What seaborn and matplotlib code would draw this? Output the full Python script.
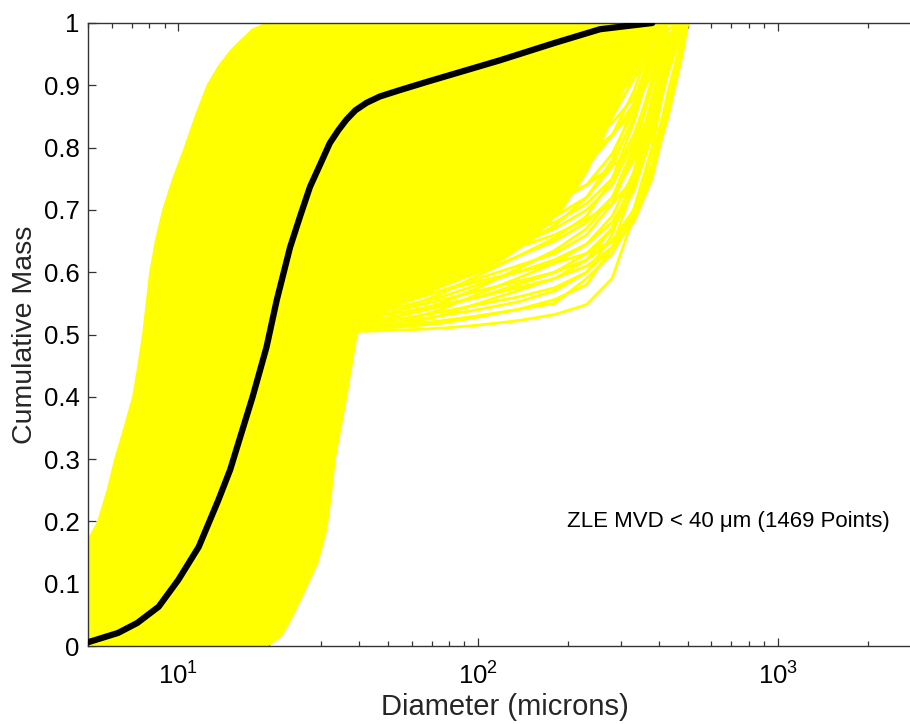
import numpy as np
import pandas as pd
import matplotlib
matplotlib.use("Agg")
import matplotlib.pyplot as plt
import matplotlib.ticker as mticker
import seaborn as sns

# Mean cumulative mass curve (diameter in microns)
mean_diam = [5, 6.3, 7.3, 8.6, 10, 11.7, 13.6, 14.9, 16.2, 17.7, 19.7, 21.3, 23.6,
             25.5, 27.5, 30, 32, 34.2, 36.4, 39, 42.5, 47, 54.6, 68, 86.7, 118,
             180, 255, 381]
mean_mass = [0.006, 0.021, 0.037, 0.063, 0.106, 0.159, 0.234, 0.283, 0.34, 0.40,
             0.48, 0.555, 0.64, 0.69, 0.737, 0.777, 0.807, 0.828, 0.845, 0.860,
             0.872, 0.882, 0.892, 0.906, 0.921, 0.94, 0.968, 0.99, 1.0]

# Outline of the dense bundle of individual distributions
band_upper_diam = [5, 5, 5.4, 5.8, 6.15, 6.6, 7.06, 7.35, 7.62, 8.05, 8.4, 8.89, 9.6,
                   10.5, 11.4, 12.5, 13.6, 14.9, 16.0, 17.7, 19.8]
band_upper_mass = [0.0, 0.17, 0.2, 0.25, 0.3, 0.35, 0.4, 0.45, 0.5, 0.6, 0.65, 0.7,
                   0.75, 0.8, 0.85, 0.9, 0.93, 0.955, 0.97, 0.99, 1.0]
band_right_diam = [430, 360, 310, 270, 230, 190, 150, 120, 95, 70, 55, 45, 40.5]
band_right_mass = [1.0, 0.96, 0.90, 0.83, 0.76, 0.70, 0.65, 0.62, 0.595, 0.57, 0.55,
                   0.53, 0.507]
band_lower_diam = [39.4, 36.4, 33.3, 32.3, 31.2, 29.1, 25.9, 23.4, 22.0, 19.8]
band_lower_mass = [0.5, 0.4, 0.3, 0.24, 0.186, 0.133, 0.08, 0.037, 0.015, 0.0]

# Individual distributions with a coarse tail beyond 40 microns
tail_diam = [40, 55, 75, 100, 135, 180, 230, 280, 330, 380, 430, 480, 500]
tail_mass = [
    [0.505, 0.507, 0.510, 0.515, 0.522, 0.532, 0.548, 0.59, 0.69, 0.79, 0.88, 0.96, 1.0],
    [0.510, 0.515, 0.522, 0.530, 0.540, 0.550, 0.590, 0.63, 0.69, 0.76, 0.85, 0.95, 1.0],
    [0.508, 0.512, 0.518, 0.528, 0.540, 0.556, 0.580, 0.64, 0.74, 0.85, 0.94, 0.99, 1.0],
    [0.512, 0.520, 0.530, 0.540, 0.552, 0.570, 0.600, 0.66, 0.76, 0.88, 0.97, 1.0, 1.0],
    [0.515, 0.525, 0.536, 0.548, 0.560, 0.575, 0.600, 0.64, 0.70, 0.77, 0.87, 0.97, 1.0],
    [0.520, 0.530, 0.545, 0.560, 0.580, 0.600, 0.630, 0.67, 0.73, 0.82, 0.92, 0.99, 1.0],
    [0.525, 0.540, 0.555, 0.570, 0.585, 0.600, 0.620, 0.65, 0.70, 0.80, 0.93, 1.0, 1.0],
    [0.530, 0.545, 0.560, 0.580, 0.600, 0.620, 0.645, 0.68, 0.74, 0.84, 0.95, 1.0, 1.0],
    [0.535, 0.550, 0.570, 0.590, 0.610, 0.630, 0.660, 0.71, 0.79, 0.90, 0.98, 1.0, 1.0],
    [0.540, 0.560, 0.580, 0.600, 0.625, 0.650, 0.680, 0.72, 0.78, 0.87, 0.96, 1.0, 1.0],
    [0.550, 0.570, 0.595, 0.620, 0.645, 0.670, 0.700, 0.74, 0.81, 0.91, 0.99, 1.0, 1.0],
    [0.560, 0.585, 0.610, 0.635, 0.660, 0.690, 0.720, 0.77, 0.85, 0.94, 1.0, 1.0, 1.0],
    [0.570, 0.600, 0.630, 0.655, 0.680, 0.710, 0.740, 0.79, 0.86, 0.95, 1.0, 1.0, 1.0],
    [0.580, 0.610, 0.640, 0.670, 0.700, 0.730, 0.770, 0.82, 0.89, 0.97, 1.0, 1.0, 1.0],
    [0.590, 0.625, 0.660, 0.690, 0.720, 0.750, 0.780, 0.82, 0.87, 0.93, 0.99, 1.0, 1.0],
    [0.600, 0.640, 0.675, 0.705, 0.735, 0.765, 0.800, 0.85, 0.91, 0.97, 1.0, 1.0, 1.0],
    [0.620, 0.660, 0.690, 0.720, 0.750, 0.780, 0.810, 0.84, 0.88, 0.94, 0.99, 1.0, 1.0],
    [0.630, 0.670, 0.710, 0.740, 0.770, 0.800, 0.830, 0.87, 0.92, 0.98, 1.0, 1.0, 1.0],
    [0.650, 0.690, 0.730, 0.760, 0.790, 0.820, 0.850, 0.88, 0.91, 0.95, 0.99, 1.0, 1.0],
    [0.670, 0.710, 0.750, 0.780, 0.810, 0.840, 0.870, 0.90, 0.94, 0.98, 1.0, 1.0, 1.0],
    [0.690, 0.730, 0.770, 0.800, 0.830, 0.860, 0.890, 0.92, 0.95, 0.98, 1.0, 1.0, 1.0],
    [0.720, 0.760, 0.800, 0.830, 0.860, 0.890, 0.910, 0.93, 0.96, 0.99, 1.0, 1.0, 1.0],
    [0.750, 0.790, 0.830, 0.860, 0.880, 0.900, 0.920, 0.94, 0.97, 0.99, 1.0, 1.0, 1.0],
    [0.540, 0.555, 0.570, 0.585, 0.600, 0.615, 0.630, 0.65, 0.69, 0.77, 0.89, 0.98, 1.0],
    [0.560, 0.580, 0.600, 0.620, 0.640, 0.660, 0.685, 0.71, 0.75, 0.83, 0.93, 0.99, 1.0],
    [0.600, 0.630, 0.660, 0.680, 0.700, 0.720, 0.740, 0.77, 0.80, 0.86, 0.94, 0.99, 1.0],
    [0.640, 0.680, 0.710, 0.730, 0.750, 0.770, 0.790, 0.82, 0.86, 0.92, 0.98, 1.0, 1.0],
    [0.700, 0.740, 0.780, 0.810, 0.840, 0.860, 0.880, 0.90, 0.93, 0.97, 1.0, 1.0, 1.0],
    [0.780, 0.820, 0.850, 0.880, 0.900, 0.920, 0.940, 0.96, 0.98, 1.0, 1.0, 1.0, 1.0],
    [0.580, 0.600, 0.620, 0.640, 0.660, 0.680, 0.710, 0.75, 0.82, 0.90, 0.97, 1.0, 1.0],
    [0.507, 0.515, 0.530, 0.550, 0.570, 0.590, 0.620, 0.67, 0.75, 0.86, 0.95, 1.0, 1.0],
    [0.510, 0.520, 0.540, 0.565, 0.590, 0.615, 0.645, 0.69, 0.76, 0.85, 0.94, 0.99, 1.0],
    [0.515, 0.530, 0.550, 0.575, 0.605, 0.635, 0.670, 0.72, 0.80, 0.90, 0.98, 1.0, 1.0],
    [0.520, 0.540, 0.565, 0.595, 0.625, 0.655, 0.690, 0.75, 0.84, 0.94, 1.0, 1.0, 1.0],
    [0.530, 0.550, 0.580, 0.610, 0.640, 0.675, 0.720, 0.78, 0.87, 0.96, 1.0, 1.0, 1.0],
    [0.525, 0.535, 0.548, 0.560, 0.575, 0.590, 0.610, 0.64, 0.68, 0.75, 0.86, 0.96, 1.0],
]

y_ticks = [0, 0.1, 0.2, 0.3, 0.4, 0.5, 0.6, 0.7, 0.8, 0.9, 1.0]
annotation = "ZLE MVD < 40 \u03bcm (1469 Points)"

sns.set_theme(style="ticks")
plt.rcParams["font.family"] = ["Liberation Sans", "DejaVu Sans"]
plt.rcParams["axes.unicode_minus"] = False

YELLOW = "#FFFF00"

fig = plt.figure(figsize=(9.10, 7.24), dpi=100)
ax = fig.add_axes([88 / 910, 78 / 724, 833 / 910, 623 / 724])
ax.set_xscale("log")

# dense part of the bundle
poly_x = band_upper_diam + band_right_diam + band_lower_diam
poly_y = band_upper_mass + band_right_mass + band_lower_mass
ax.fill(poly_x, poly_y, color=YELLOW, lw=1.2, ec=YELLOW, zorder=1)

# individual tails
tails = pd.DataFrame(
    [(i, d, m) for i, row in enumerate(tail_mass) for d, m in zip(tail_diam, row)],
    columns=["sample", "diameter", "mass"],
)
sns.lineplot(data=tails, x="diameter", y="mass", units="sample", estimator=None,
             sort=False, color=YELLOW, lw=2.0, ax=ax, zorder=2)

# mean curve
mean_df = pd.DataFrame({"diameter": mean_diam, "mass": mean_mass})
sns.lineplot(data=mean_df, x="diameter", y="mass", color="black", lw=4.5,
             sort=False, estimator=None, ax=ax, zorder=3)

ax.set_xlim(5, 3000)
ax.set_ylim(0, 1)
ax.set_yticks(y_ticks)
ax.yaxis.set_major_formatter(mticker.FormatStrFormatter("%g"))
ax.xaxis.set_major_locator(mticker.LogLocator(base=10))
ax.xaxis.set_minor_locator(mticker.LogLocator(base=10, subs=np.arange(2, 10)))
ax.xaxis.set_minor_formatter(mticker.NullFormatter())

for side in ["top", "bottom", "left", "right"]:
    ax.spines[side].set_visible(True)
    ax.spines[side].set_color("#333333")
    ax.spines[side].set_linewidth(1.0)

ax.tick_params(axis="both", which="both", direction="in", top=True, right=True,
               colors="#333333", labelcolor="black", width=0.9)
ax.tick_params(axis="both", which="major", length=6, labelsize=18.5)
ax.tick_params(axis="x", which="major", pad=12)
ax.tick_params(axis="y", which="major", pad=6)
ax.tick_params(axis="both", which="minor", length=3.5)

ax.set_xlabel("Diameter (microns)", fontsize=21, labelpad=2)
ax.set_ylabel("Cumulative Mass", fontsize=20.5, labelpad=4)

ax.text(198, 0.2, annotation, fontsize=16, ha="left", va="center", color="black")

ax.grid(False)
fig.savefig("out.png", dpi=100, facecolor="white")
